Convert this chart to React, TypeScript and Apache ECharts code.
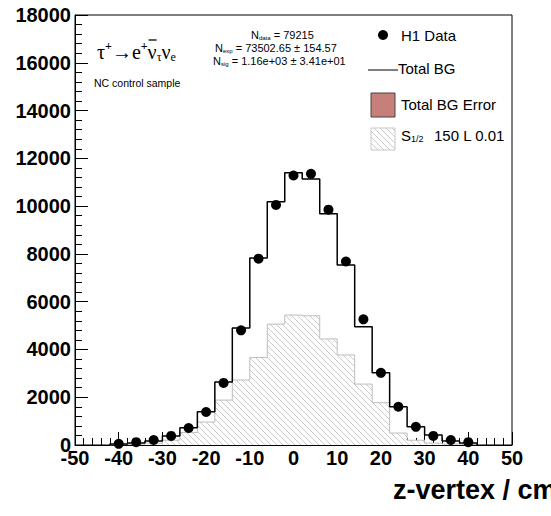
import React, { useEffect, useRef } from "react";
import * as echarts from "echarts";

// ---- data ----
const binCenters = [-40, -36, -32, -28, -24, -20, -16, -12, -8, -4, 0, 4, 8, 12, 16, 20, 24, 28, 32, 36, 40];
const binWidth = 4;
const h1Data = [50, 120, 210, 380, 710, 1380, 2600, 4800, 7800, 10050, 11280, 11350, 9850, 7680, 5260, 3020, 1600, 760, 380, 210, 120];
const totalBG = [40, 85, 170, 380, 720, 1390, 2640, 4900, 7830, 10180, 11400, 11140, 9680, 7540, 4950, 3020, 1600, 760, 420, 170, 85];
const signal = [20, 40, 80, 200, 520, 960, 1880, 2720, 3660, 5060, 5440, 5410, 4440, 3770, 2550, 1770, 500, 200, 80, 40, 20];

const xTicks = { min: -50, max: 50, interval: 10 };
const yTicks = { min: 0, max: 18000, interval: 2000 };

const sansFont = "'Liberation Sans', Arial, Helvetica, sans-serif";
const serifFont = "'Liberation Serif', 'Times New Roman', serif";

function histSteps(values: number[]) {
  const pts: number[][] = [];
  const first = binCenters[0] - binWidth / 2;
  pts.push([first, 0]);
  values.forEach((v, i) => pts.push([binCenters[i] - binWidth / 2, v]));
  const last = binCenters[binCenters.length - 1] + binWidth / 2;
  pts.push([last, values[values.length - 1]]);
  pts.push([last, 0]);
  return pts;
}

function makeHatch() {
  const s = 6;
  const cv = document.createElement("canvas");
  cv.width = s;
  cv.height = s;
  const ctx = cv.getContext("2d")!;
  ctx.fillStyle = "#ffffff";
  ctx.fillRect(0, 0, s, s);
  ctx.strokeStyle = "#bcbcbc";
  ctx.lineWidth = 0.8;
  ctx.beginPath();
  ctx.moveTo(0, 0);
  ctx.lineTo(s, s);
  ctx.moveTo(-1, s - 1);
  ctx.lineTo(1, s + 1);
  ctx.moveTo(s - 1, -1);
  ctx.lineTo(s + 1, 1);
  ctx.stroke();
  return cv;
}

let measureCtx: CanvasRenderingContext2D | null = null;
function textW(t: string, font: string) {
  if (!measureCtx) measureCtx = document.createElement("canvas").getContext("2d");
  measureCtx!.font = font;
  return measureCtx!.measureText(t).width;
}

type Piece = { t: string; size: number; dy: number; fam?: string; weight?: string };
function runText(x: number, y: number, pieces: Piece[]) {
  const els: any[] = [];
  const xs: number[] = [];
  const ws: number[] = [];
  let cx = x;
  pieces.forEach((p) => {
    const fam = p.fam || sansFont;
    const font = `${p.weight || "normal"} ${p.size}px ${fam}`;
    els.push({
      type: "text",
      x: cx,
      y: y + p.dy,
      style: { text: p.t, font, fill: "#000", textAlign: "left", textVerticalAlign: "middle" },
    });
    const w = textW(p.t, font);
    xs.push(cx);
    ws.push(w);
    cx += w;
  });
  return { els, xs, ws };
}

export default function App() {
  const ref = useRef<HTMLDivElement>(null);
  useEffect(() => {
    document.body.style.margin = "0";
    const chart = echarts.init(ref.current!, undefined, { renderer: "svg" });
    const hatch = makeHatch();
    const hatchFill: any = { image: hatch, repeat: "repeat" };

    const labelStyle = {
      fontSize: 20,
      fontWeight: "bold" as const,
      color: "#000",
      fontFamily: sansFont,
    };

    const formula = runText(97, 52, [
      { t: "τ", size: 20, dy: 0, fam: serifFont },
      { t: "+", size: 12, dy: -6, fam: serifFont, weight: "bold" },
      { t: "→", size: 20, dy: 0, fam: serifFont },
      { t: "e", size: 20, dy: 0, fam: serifFont },
      { t: "+", size: 12, dy: -6, fam: serifFont, weight: "bold" },
      { t: "ν", size: 20, dy: 0, fam: serifFont },
      { t: "τ", size: 12, dy: 5, fam: serifFont },
      { t: "ν", size: 20, dy: 0, fam: serifFont },
      { t: "e", size: 12, dy: 5, fam: serifFont },
    ]);
    const nuX = formula.xs[5];
    const nuW = formula.ws[5];

    const graphics: any[] = [
      ...formula.els,
      {
        type: "line",
        shape: { x1: nuX + 1, y1: 40, x2: nuX + nuW, y2: 40 },
        style: { stroke: "#000", lineWidth: 1.3 },
      },
      {
        type: "text",
        x: 94,
        y: 83,
        style: { text: "NC control sample", font: `normal 10.5px ${sansFont}`, fill: "#000", textVerticalAlign: "middle" },
      },
      ...runText(251, 35, [
        { t: "N", size: 11, dy: 0 },
        { t: "data", size: 6, dy: 3 },
        { t: " = 79215", size: 11, dy: 0 },
      ]).els,
      ...runText(215, 48, [
        { t: "N", size: 11, dy: 0 },
        { t: "exp", size: 6, dy: 3 },
        { t: " = 73502.65 ± 154.57", size: 11, dy: 0 },
      ]).els,
      ...runText(213, 61, [
        { t: "N", size: 11, dy: 0 },
        { t: "sig", size: 6, dy: 3 },
        { t: " = 1.16e+03 ± 3.41e+01", size: 11, dy: 0 },
      ]).els,
      // legend
      { type: "circle", shape: { cx: 383, cy: 35, r: 5 }, style: { fill: "#000" } },
      { type: "text", x: 401, y: 35, style: { text: "H1 Data", font: `normal 15px ${sansFont}`, fill: "#000", textVerticalAlign: "middle" } },
      { type: "line", shape: { x1: 368, y1: 70, x2: 398, y2: 70 }, style: { stroke: "#000", lineWidth: 1 } },
      { type: "text", x: 398, y: 68, style: { text: "Total BG", font: `normal 15px ${sansFont}`, fill: "#000", textVerticalAlign: "middle" } },
      { type: "rect", shape: { x: 371, y: 93, width: 24, height: 24 }, style: { fill: "#c77f7a", stroke: "#444", lineWidth: 1 } },
      { type: "text", x: 401, y: 104, style: { text: "Total BG Error", font: `normal 15px ${sansFont}`, fill: "#000", textVerticalAlign: "middle" } },
      { type: "rect", shape: { x: 371, y: 128, width: 24, height: 22 }, style: { fill: hatchFill, stroke: "#c8c8c8", lineWidth: 1 } },
      ...runText(401, 135, [
        { t: "S", size: 15, dy: 0 },
        { t: "1/2", size: 9, dy: 4 },
      ]).els,
      { type: "text", x: 434, y: 135, style: { text: "150 L 0.01", font: `normal 15px ${sansFont}`, fill: "#000", textVerticalAlign: "middle" } },
      // axis title
      {
        type: "text",
        x: 393,
        y: 490,
        style: { text: "z-vertex / cm", font: `bold 27px ${sansFont}`, fill: "#000", textVerticalAlign: "middle" },
      },
    ];

    chart.setOption({
      animation: false,
      backgroundColor: "#fff",
      grid: { left: 75, right: 39, top: 15, bottom: 71, show: true, borderColor: "#000", borderWidth: 1 },
      xAxis: {
        type: "value",
        min: xTicks.min,
        max: xTicks.max,
        interval: xTicks.interval,
        axisLine: { show: true, onZero: false, lineStyle: { color: "#000", width: 1 } },
        axisTick: { show: true, inside: true, length: 13, lineStyle: { color: "#000", width: 1 } },
        minorTick: { show: true, splitNumber: 5, length: 7, lineStyle: { color: "#000", width: 1 } },
        splitLine: { show: false },
        axisLabel: { ...labelStyle, margin: 3, showMinLabel: true, showMaxLabel: true, formatter: (v: number) => String(v) },
      },
      yAxis: {
        type: "value",
        min: yTicks.min,
        max: yTicks.max,
        interval: yTicks.interval,
        axisLine: { show: true, onZero: false, lineStyle: { color: "#000", width: 1 } },
        axisTick: { show: true, inside: true, length: 13, lineStyle: { color: "#000", width: 1 } },
        minorTick: { show: true, splitNumber: 5, length: 7, lineStyle: { color: "#000", width: 1 } },
        splitLine: { show: false },
        axisLabel: { ...labelStyle, margin: 4, formatter: (v: number) => String(v) },
      },
      series: [
        {
          name: "S1/2 150 L 0.01",
          type: "line",
          step: "end",
          symbol: "none",
          data: histSteps(signal),
          lineStyle: { color: "#bdbdbd", width: 1 },
          areaStyle: { color: hatchFill, opacity: 1 },
          z: 1,
        },
        {
          name: "Total BG",
          type: "line",
          step: "end",
          symbol: "none",
          data: histSteps(totalBG),
          lineStyle: { color: "#000", width: 1.5 },
          z: 2,
        },
        {
          name: "H1 Data",
          type: "scatter",
          symbol: "circle",
          symbolSize: 10,
          data: binCenters.map((c, i) => [c, h1Data[i]]),
          itemStyle: { color: "#000", opacity: 1 },
          z: 3,
        },
      ],
      graphic: graphics,
    });
    return () => chart.dispose();
  }, []);
  return <div ref={ref} style={{ width: 551, height: 516 }} />;
}
